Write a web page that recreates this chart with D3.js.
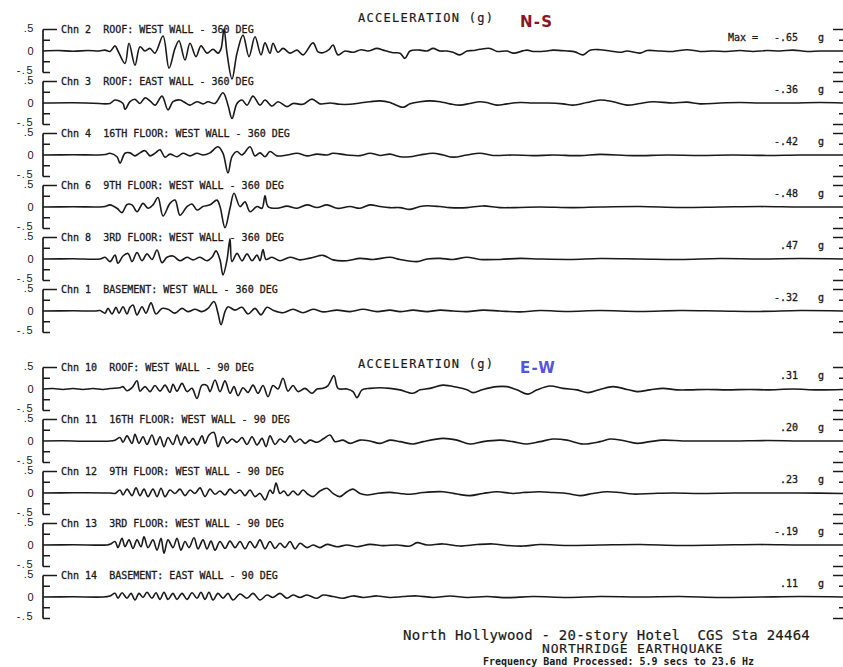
<!DOCTYPE html>
<html>
<head>
<meta charset="utf-8">
<script src="https://cdn.jsdelivr.net/npm/d3@7/dist/d3.min.js"></script>
<style>
  body { margin: 0; background: #fff; }
  svg { display: block; }
  text { white-space: pre; }
</style>
</head>
<body>
<svg id="chart"></svg>
<script>
/////////////////////// Part 1: data, [time (s), acceleration (g)] ///////////////////////

var chn2 = [[0,0],[1.5,.01],[3,-.005],[4.5,.01],[5.6,0],[6.2,.02],[6.7,-.01],[7.2,.12],[7.5,0],[8.2,-.29],[8.6,.18],[9.2,-.33],[9.7,.1],[10.2,0],[10.7,.06],[11.2,-.05],[12,.35],[12.6,-.4],[13.2,.06],[13.6,.24],[14.2,-.21],[14.7,.18],[15.3,-.13],[15.8,.12],[16.4,-.05],[17,.04],[17.5,-.05],[17.8,.05],[18.1,.51],[18.4,-.05],[18.9,-.65],[19.4,-.05],[20,.37],[20.6,-.13],[21.2,.33],[21.8,-.09],[22.2,.19],[22.7,-.05],[23,.18],[23.5,-.03],[24,.06],[24.7,-.05],[25.4,.02],[26,-.09],[27,.19],[27.5,-.02],[28,-.04],[28.6,.03],[29,.14],[29.5,-.09],[30.2,0],[31,-.03],[31.8,.03],[32.5,0],[33.4,.06],[34,.02],[35,-.04],[35.7,-.05],[36.2,-.17],[36.7,0],[37.7,.02],[38.4,0],[39,.06],[39.7,0],[40.4,0],[41,-.03],[41.7,-.09],[42.4,0],[43,.01],[43.7,.04],[44.7,.06],[45.4,-.01],[46.4,0],[47,-.05],[48.4,.02],[49,-.01],[50.4,0],[51,.02],[52.4,0],[53.2,-.02],[54,-.09],[54.7,.02],[55.7,.03],[56.7,0],[57.7,-.03],[58.4,0],[59.7,-.05],[60.4,.01],[61.7,0],[63,-.01],[64.4,.03],[65.7,-.01],[67,0],[68.4,-.01],[69.7,.01],[71,-.01],[72.4,.01],[73.7,0],[75,.02],[76.4,-.01],[77.7,0],[80,0]];

var chn3 = [[0,0],[3,.005],[5,-.005],[6.7,-.01],[7.2,.07],[8,-.01],[8.2,-.15],[8.7,.03],[9.2,.085],[9.7,-.01],[10.2,.12],[10.7,.05],[11.2,-.05],[11.9,.16],[12.5,-.16],[13,.03],[13.7,.07],[14.2,.01],[14.7,-.05],[15.4,.03],[16,-.02],[16.5,.03],[17.2,-.01],[18,.24],[18.5,-.05],[18.9,-.36],[19.4,-.01],[19.9,.07],[20.4,-.05],[21,.16],[21.7,-.05],[22.2,.07],[22.9,-.07],[23.5,.03],[24.4,-.085],[25,-.01],[26,-.03],[26.9,.09],[27.7,-.02],[28.7,0],[29.7,-.03],[30.7,-.03],[31.7,0],[32.7,.03],[33.7,.05],[34.7,.01],[35,-.02],[36,-.1],[36.7,-.02],[37.7,.03],[38.7,.05],[39.7,.03],[40.7,-.02],[41.7,-.05],[42.7,-.01],[43.7,.03],[44.4,.01],[45.4,-.05],[46.4,-.02],[47.7,.01],[49,0],[50.4,0],[52,-.02],[53,-.05],[54.4,.01],[55.7,.07],[57,.03],[58.4,-.05],[59.7,-.01],[61,.03],[63,0],[64.4,.02],[65.7,-.02],[67.7,0],[69.7,.01],[71.7,0],[75,0],[77.7,.01],[80,0]];

var chn4 = [[0,0],[3,.005],[5.5,0],[6.2,.01],[6.7,.04],[7.4,-.04],[7.7,-.19],[8.2,.04],[8.7,.05],[9.2,-.02],[9.7,.05],[10.2,.1],[10.7,-.02],[11.2,.04],[11.7,.12],[12.2,-.05],[12.7,.02],[13.4,-.04],[14,.04],[14.7,-.02],[15.4,.04],[16,0],[16.7,.05],[17.5,.19],[18,.04],[18.5,-.42],[18.9,-.04],[19.4,.08],[19.9,0],[20.7,.19],[21.2,-.02],[21.7,.05],[22.2,-.04],[22.7,.08],[23.4,-.02],[24.4,0],[25.4,.04],[26.4,-.02],[27.4,.02],[28.4,0],[29,.04],[30.4,0],[31.7,-.015],[32.7,.04],[33.7,-.01],[34.7,.02],[35.7,-.04],[36.7,-.04],[37.7,0],[39,.04],[40,0],[41,-.05],[42.4,0],[43.7,.04],[45,-.01],[47,0],[49,-.015],[51,0],[53.7,-.015],[55.7,.015],[59,-.015],[62.4,0],[65.7,-.01],[69,0],[72.4,-.01],[75.7,0],[80,0]];

var chn6 = [[0,0],[3,.005],[5.5,0],[6.2,.01],[6.7,.05],[7.4,-.03],[7.9,-.13],[8.4,.06],[8.9,.05],[9.4,-.11],[10,.085],[10.5,-.03],[11,.05],[11.5,.22],[12,-.21],[12.7,.085],[13.2,.16],[13.7,-.19],[14.4,.01],[14.9,.07],[15.4,-.07],[16,.01],[16.7,.05],[17.4,.16],[17.7,.01],[18.2,-.48],[18.7,-.03],[19.1,.32],[19.7,.01],[20.2,.12],[20.7,-.11],[21.4,.01],[21.9,-.03],[22.2,.26],[22.5,.01],[23.4,-.03],[24.4,.02],[25.4,-.03],[26.4,.05],[27.4,-.01],[28.4,.05],[29.4,-.03],[30.7,.01],[31.7,-.03],[32.7,.05],[33.7,.01],[34.7,-.015],[35.7,-.015],[36.7,-.055],[37.7,.01],[38.4,.03],[39.7,.01],[40.7,-.015],[42.4,-.015],[44,.025],[45.7,-.015],[47.7,-.01],[49.7,0],[53,-.015],[55.7,0],[59.7,.01],[63.7,-.01],[67.7,0],[71.7,.01],[75.7,0],[80,0]];

var chn8 = [[0,0],[3,.005],[5.7,0],[6.2,.04],[6.7,-.06],[7.2,.09],[7.5,-.1],[8,.07],[8.5,.13],[8.9,-.06],[9.4,.15],[9.9,-.04],[10.4,.12],[10.9,-.01],[11.4,.21],[11.9,-.085],[12.4,.04],[13,.07],[13.7,-.04],[14.4,.04],[15,-.02],[15.7,.04],[16.4,-.04],[16.9,.04],[17.3,.19],[17.7,-.02],[18,-.37],[18.4,-.02],[18.7,.47],[18.9,-.06],[19.4,.13],[19.9,-.04],[20.4,.12],[20.9,-.04],[21.4,.09],[21.7,-.04],[22,.22],[22.3,-.01],[22.9,.04],[23.7,-.04],[24.7,.04],[25.7,-.02],[26.7,.02],[28,.085],[29,-.02],[30.4,-.04],[31.7,.015],[33,-.01],[34.7,.04],[35.7,-.01],[37.4,-.06],[38.4,0],[39.7,.015],[41,-.01],[42.4,.04],[43.7,-.01],[45.7,-.01],[47.7,.015],[49.7,0],[52.7,-.01],[55.7,.01],[59.7,0],[63.7,-.01],[67.7,.01],[71.7,0],[75.7,.01],[80,0]];

var chn1 = [[0,0],[3,.005],[5.2,0],[5.7,.01],[6.2,-.05],[6.5,.06],[6.9,-.07],[7.3,.085],[7.6,-.05],[8,.1],[8.4,-.07],[8.7,.085],[9,.14],[9.4,-.09],[9.9,.1],[10.3,-.05],[10.8,.19],[11.3,-.07],[11.9,.06],[12.5,.04],[13.2,-.05],[13.9,.06],[14.5,-.015],[15.2,.04],[15.9,-.015],[16.5,.06],[17.1,.22],[17.5,-.05],[17.8,-.32],[18.2,-.015],[18.5,.1],[19.2,.02],[19.9,.085],[20.5,-.07],[21.2,.06],[21.8,-.09],[22.4,.085],[23,.02],[24,-.04],[25,.04],[26,-.04],[27,.04],[28,-.02],[29.4,.02],[30.7,-.015],[32,.04],[33.4,-.015],[34.7,.02],[35.7,-.015],[37,.02],[38.4,-.015],[39.7,.02],[41,0],[42.4,-.015],[44,.02],[45.7,0],[47.7,-.02],[49.7,.01],[52.4,-.01],[55.7,.01],[59.7,-.01],[63.7,.01],[67.7,0],[71.7,-.01],[75.7,.01],[80,0]];

var chn10 = [[0,0],[1,.01],[2,-.01],[3,.01],[4,-.01],[5,.01],[6,-.01],[6.7,.01],[7.7,.03],[8,.055],[8.4,-.04],[8.9,.03],[9.4,.19],[9.7,-.05],[10.2,.055],[10.7,-.06],[11.2,.08],[11.7,-.05],[12.2,.09],[12.7,-.08],[13,.11],[13.4,-.05],[13.9,.13],[14.4,-.06],[14.9,.015],[15.4,-.22],[15.9,.09],[16.4,.08],[16.7,-.06],[17.2,.21],[17.7,-.06],[18.2,.19],[18.7,-.1],[19.1,.055],[19.5,-.155],[20,.03],[20.5,-.08],[21,.09],[21.5,-.1],[22,.08],[22.5,-.18],[23,.08],[23.5,0],[24,.25],[24.5,-.05],[25,.08],[25.5,-.06],[26.2,.015],[26.9,-.1],[27.4,0],[28,.015],[28.5,.08],[29.1,.31],[29.5,.015],[30.4,0],[31,-.06],[31.4,-.2],[31.9,-.02],[32.7,.015],[33.7,.03],[34.7,.015],[35.7,-.02],[37,-.1],[37.7,-.02],[38.7,.015],[40,.09],[41.4,.04],[42.4,-.02],[43,-.085],[44,-.01],[45.4,.055],[46.4,.055],[47.4,-.02],[48.5,-.12],[49.4,-.02],[50.7,.07],[52,.015],[53.4,-.02],[54.5,-.085],[55.7,-.01],[57,.055],[58.4,-.01],[59.4,-.06],[60.7,-.02],[62,.015],[63.4,-.02],[64.7,-.02],[66.4,-.01],[68.4,-.02],[70.7,-.01],[72.4,-.02],[75,0],[77.4,-.02],[80,-.01]];

var chn11 = [[0,0],[2,.005],[4,-.005],[6.7,0],[7.2,.02],[7.7,.08],[8,-.03],[8.4,.12],[8.9,-.055],[9.2,.155],[9.6,-.055],[10,.1],[10.4,-.08],[10.9,.14],[11.3,-.09],[11.7,.1],[12.1,-.13],[12.5,.08],[13,-.08],[13.4,.14],[13.8,-.09],[14.2,.1],[14.6,-.055],[15,.06],[15.4,-.09],[15.9,.12],[16.2,-.055],[16.6,.14],[17.1,.2],[17.5,-.13],[18,.1],[18.4,-.055],[18.9,.045],[19.4,-.03],[19.9,.08],[20.4,-.08],[20.9,.1],[21.4,-.09],[21.9,.06],[22.3,-.13],[22.7,.12],[23.2,-.08],[23.7,.045],[24.2,-.03],[24.7,.12],[25.2,-.03],[25.7,.045],[26.2,-.055],[26.7,.02],[27.4,-.03],[28,.045],[28.7,.14],[29.2,-.015],[30,.02],[30.7,-.055],[31.7,.02],[32.7,0],[33.7,-.055],[34.7,.02],[35.7,-.015],[37,-.07],[38,-.015],[40,.06],[41.4,.02],[42.7,-.07],[44,-.015],[45.7,.02],[47,-.015],[48.4,-.07],[49.7,-.015],[51,.045],[52.4,.02],[54,-.07],[55.7,-.015],[56.7,.045],[58,.01],[59.4,-.055],[60.7,-.015],[62,.02],[64,0],[65.7,0],[69,0],[72.4,.01],[75.7,0],[80,0]];

var chn12 = [[0,0],[3,.005],[6.7,0],[7.2,-.01],[7.7,.07],[8,-.045],[8.4,.09],[8.9,-.06],[9.3,.12],[9.7,-.06],[10.1,.09],[10.5,-.085],[11,.09],[11.4,-.085],[11.8,.11],[12.2,-.085],[12.7,.07],[13.2,-.01],[13.7,.09],[14.2,-.06],[14.7,.07],[15.2,-.01],[15.7,.12],[16.2,-.085],[16.7,.09],[17.2,-.03],[17.7,.045],[18.2,-.045],[18.7,.09],[19.2,-.01],[19.7,.07],[20.2,-.06],[20.7,.07],[21.2,-.085],[21.7,-.01],[22.2,-.16],[22.7,.07],[23,-.01],[23.3,.23],[23.7,-.01],[24.1,.045],[24.5,-.06],[25,.045],[25.5,-.045],[26,.07],[26.5,-.03],[27,-.085],[27.7,.045],[28.4,.11],[29,-.01],[29.7,-.085],[30.4,.03],[31,.09],[31.7,-.01],[32.4,-.045],[33.4,-.01],[34.7,.015],[35.7,-.01],[36.7,-.03],[38,.01],[40,.03],[41.4,-.025],[42.7,-.06],[44,-.01],[45.4,.03],[47,-.01],[48,.01],[49.7,.03],[51,.01],[52.4,-.01],[53.7,-.06],[55,-.01],[56.4,.03],[57.7,.01],[59,-.025],[61,-.01],[63,0],[65.7,-.01],[69,0],[72.4,0],[75.7,0],[80,-.01]];

var chn13 = [[0,0],[3,.005],[6.4,0],[6.7,.015],[7.2,.08],[7.5,-.06],[7.9,.155],[8.2,-.04],[8.6,.12],[9,-.08],[9.4,.12],[9.8,-.04],[10.1,.19],[10.5,-.06],[11,.12],[11.4,-.12],[11.8,.155],[12.1,-.19],[12.5,.12],[13,-.06],[13.4,.155],[13.8,-.12],[14.2,.08],[14.6,-.06],[15.1,.17],[15.5,-.09],[16,.12],[16.4,-.09],[16.8,.09],[17.2,-.12],[17.7,.08],[18.2,-.08],[18.7,.09],[19.2,-.06],[19.7,.08],[20.2,-.09],[20.7,.08],[21.2,-.06],[21.7,.12],[22.2,-.09],[22.7,.08],[23.2,-.08],[23.7,.04],[24.2,-.06],[24.7,.08],[25.2,-.09],[25.7,.04],[26.4,-.06],[27,0],[27.7,-.06],[28.4,.015],[29.4,-.04],[30.4,0],[31.4,-.04],[32.7,.015],[34,-.015],[35.4,0],[36.7,-.025],[37.4,.055],[38.4,0],[40,.025],[41.7,-.025],[43.4,.01],[45,.025],[46.4,-.01],[48,-.025],[49.7,.01],[52.4,-.01],[55.7,0],[59.7,.01],[63.7,-.01],[67.7,0],[71.7,.01],[75.7,0],[80,0]];

var chn14 = [[0,0],[3,.005],[6,0],[6.7,.025],[7.2,.085],[7.5,-.03],[7.9,.1],[8.4,-.03],[8.8,.085],[9.2,-.07],[9.6,.085],[10,-.01],[10.4,.11],[10.9,-.03],[11.3,.1],[11.7,-.055],[12.1,.11],[12.5,-.055],[13,.085],[13.4,-.055],[13.9,.085],[14.4,-.055],[14.9,.1],[15.4,-.03],[15.8,.11],[16.2,-.055],[16.6,.11],[17,-.07],[17.5,.085],[18,-.03],[18.5,.085],[19,-.07],[19.7,.07],[20.4,-.03],[21,.085],[21.7,-.07],[22.4,.045],[23,-.01],[23.7,.085],[24.4,-.03],[25,.045],[25.7,-.01],[26.4,.045],[27.4,-.03],[28,.045],[29,.01],[30,-.03],[31,.025],[32,-.01],[33.4,.025],[34.7,-.01],[36,.01],[37.4,.025],[39,-.01],[40.7,.025],[42.4,-.01],[44.4,.01],[46.4,-.015],[49,.01],[52.4,-.01],[55.7,.01],[59.7,0],[63.7,.01],[67.7,-.01],[71.7,0],[75.7,.01],[80,0]];

var nsTraces = [chn2, chn3, chn4, chn6, chn8, chn1];
var nsLabels = ["Chn 2  ROOF: WEST WALL - 360 DEG", "Chn 3  ROOF: EAST WALL - 360 DEG",
                "Chn 4  16TH FLOOR: WEST WALL - 360 DEG", "Chn 6  9TH FLOOR: WEST WALL - 360 DEG",
                "Chn 8  3RD FLOOR: WEST WALL - 360 DEG", "Chn 1  BASEMENT: WEST WALL - 360 DEG"];
var nsMax = ["-.65", "-.36", "-.42", "-.48", ".47", "-.32"];

var ewTraces = [chn10, chn11, chn12, chn13, chn14];
var ewLabels = ["Chn 10  ROOF: WEST WALL - 90 DEG", "Chn 11  16TH FLOOR: WEST WALL - 90 DEG",
                "Chn 12  9TH FLOOR: WEST WALL - 90 DEG", "Chn 13  3RD FLOOR: WEST WALL - 90 DEG",
                "Chn 14  BASEMENT: EAST WALL - 90 DEG"];
var ewMax = [".31", ".20", ".23", "-.19", ".11"];

var tickVals = [.5, .25, 0, -.25, -.5];
var tickText = [".5", "", "0", "", "-.5"];

/////////////////////// Part 2: canvas, scales ///////////////////////
var width = 843, height = 667;
var left = 43, right = 843,
    rowH = 52,
    halfH = 21.5;   // px for 0.5 g

var svg = d3.select("#chart")
    .attr("width", width)
    .attr("height", height);

var x = d3.scaleLinear().domain([0, 80]).range([left, right]);
var y = d3.scaleLinear().domain([-0.5, 0.5]).range([halfH, -halfH]);

var line = d3.line()
    .curve(d3.curveCatmullRom.alpha(0.5))
    .x(d => x(d[0]))
    .y(d => y(d[1]));

var mono = "'DejaVu Sans Mono', monospace";
var ink = "#1a1a1a";

// plotter look: thin outline on the letters
function plotterText(sel, size) {
  return sel.attr("font-family", mono)
      .attr("font-size", size)
      .attr("fill", ink)
      .attr("stroke", ink)
      .attr("stroke-width", 0.3);
}

/////////////////////// Part 3: plot one group of records ///////////////////////
function drawGroup(traces, labels, maxes, zero0) {
  var rows = svg.append("g").selectAll("g")
      .data(traces)
      .enter().append("g")
        .attr("transform", (d, i) => "translate(0," + (zero0 + i * rowH) + ")");

  // left bracket
  rows.append("line")
      .attr("x1", left).attr("x2", left)
      .attr("y1", y(.5)).attr("y2", y(-.5))
      .attr("stroke", ink).attr("stroke-width", 1.7);

  rows.selectAll(".lt")
      .data(tickVals.filter(v => v !== 0))
      .enter().append("line")
        .attr("x1", left)
        .attr("x2", v => left + (v === .5 ? 14 : 7))
        .attr("y1", v => y(v)).attr("y2", v => y(v))
        .attr("stroke", ink).attr("stroke-width", 1.5);

  // right ticks
  rows.selectAll(".rt")
      .data(tickVals.filter(v => v !== 0))
      .enter().append("line")
        .attr("x1", right)
        .attr("x2", v => right - (Math.abs(v) === .5 ? 10 : 4))
        .attr("y1", v => y(v)).attr("y2", v => y(v))
        .attr("stroke", ink).attr("stroke-width", 1.5);

  rows.selectAll(".tl")
      .data(tickVals.filter((v, i) => tickText[i] !== ""))
      .enter().append("text")
        .attr("x", 34)
        .attr("y", v => y(v) + (v === 0 ? 4 : v > 0 ? 2.5 : 1.5))
        .attr("text-anchor", "end")
        .attr("font-family", "'Liberation Sans', Arial, sans-serif")
        .attr("font-size", 11)
        .attr("letter-spacing", v => v < 0 ? 1.5 : 0.5)
        .attr("fill", ink)
        .text(v => tickText[tickVals.indexOf(v)]);

  rows.append("path")
      .attr("d", d => line(d))
      .attr("fill", "none")
      .attr("stroke", ink)
      .attr("stroke-width", 1.6)
      .attr("stroke-linejoin", "round");

  rows.append("text")
      .attr("x", 61)
      .attr("y", y(.5) + 3.6)
      .call(plotterText, 10)
      .text((d, i) => labels[i]);

  rows.append("text")
      .attr("x", 798)
      .attr("y", -10.5)
      .attr("text-anchor", "end")
      .call(plotterText, 10)
      .text((d, i) => maxes[i]);

  rows.append("text")
      .attr("x", 818)
      .attr("y", -10.5)
      .call(plotterText, 10)
      .text("g");

  return rows;
}

var nsRows = drawGroup(nsTraces, nsLabels, nsMax, 51);
var ewRows = drawGroup(ewTraces, ewLabels, ewMax, 389);

nsRows.filter((d, i) => i === 0).append("text")
    .attr("x", 728).attr("y", -10.5)
    .call(plotterText, 10)
    .text("Max =");

/////////////////////// Part 4: titles ///////////////////////
function title(yPos, comp, color, yComp) {
  svg.append("text")
      .attr("x", 358).attr("y", yPos)
      .call(plotterText, 12)
      .attr("stroke-width", 0.2)
      .attr("letter-spacing", 1.3)
      .text("ACCELERATION (g)");
  svg.append("text")
      .attr("x", 520).attr("y", yComp)
      .attr("font-family", "'DejaVu Sans', sans-serif").attr("font-size", 15)
      .attr("font-weight", "bold").attr("letter-spacing", 1.2)
      .attr("fill", color)
      .text(comp);
}
title(22, "N-S", "#8c1428", 26.5);
title(368, "E-W", "#5454dc", 372.5);

svg.append("text")
    .attr("x", 403).attr("y", 639.5)
    .call(plotterText, 14)
    .attr("stroke-width", 0.2)
    .attr("letter-spacing", 0.23)
    .text("North Hollywood - 20-story Hotel  CGS Sta 24464");

svg.append("text")
    .attr("x", 542).attr("y", 652.5)
    .call(plotterText, 13)
    .attr("stroke-width", 0.2)
    .attr("letter-spacing", 0.8)
    .text("NORTHRIDGE EARTHQUAKE");

svg.append("text")
    .attr("x", 483).attr("y", 664.5)
    .call(plotterText, 10)
    .attr("font-weight", "bold")
    .attr("stroke-width", 0)
    .text("Frequency Band Processed: 5.9 secs to 23.6 Hz");
</script>
</body>
</html>
